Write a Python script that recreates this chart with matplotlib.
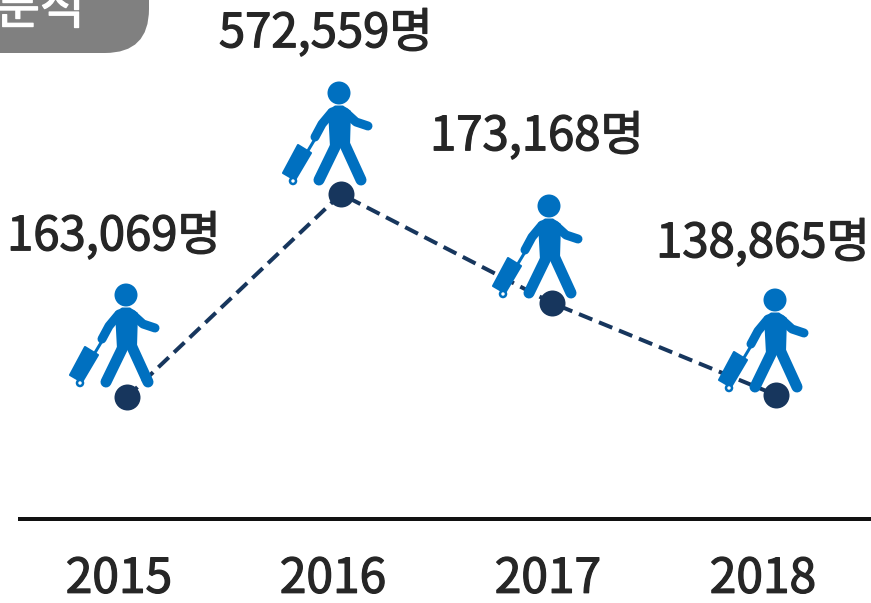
import matplotlib
matplotlib.use("Agg")
import matplotlib.pyplot as plt
import matplotlib.patheffects as pe
from matplotlib.patches import Circle, Polygon, FancyBboxPatch

plt.rcParams['font.family'] = ['Noto Sans CJK KR', 'DejaVu Sans']

years = ['2015', '2016', '2017', '2018']
visitors = [163069, 572559, 173168, 138865]
levels = [122, 325, 216, 124]   # plotted height (not proportional in the source)
unit = '명'
badge_text = '분석'

# layout
dot_x = [127, 341, 552, 776]
head_dx = [-1, -2, -3, -1]
head_dy = [102, 101, 97, 95]
label_x = [114, 326, 537, 763]
label_y = [237, 34, 137, 244]
year_x = [119, 333, 548, 763]

BLUE = '#0070c0'
NAVY = '#17365d'
TEXT = '#262626'
PX = 0.72

fig = plt.figure(figsize=(8.71, 6.03), dpi=100)
ax = fig.add_axes([0, 0, 1, 1])
ax.set_xlim(0, 871)
ax.set_ylim(-84, 519)
ax.axis('off')
Y = lambda py: 519 - py


def person(hx, hy):
    """Walking figure; local offsets are in pixels from the head centre (y down)."""
    def L(pts, w, z=3):
        ax.plot([hx + p[0] for p in pts], [hy - p[1] for p in pts], color=BLUE, lw=w * PX,
                solid_capstyle='round', solid_joinstyle='round', zorder=z)
    ax.add_patch(Circle((hx, hy), 11.5, color=BLUE, lw=0, zorder=3))
    torso = [(-11, 17), (-4, 12.5), (4, 12.5), (12, 18), (11, 52), (-9, 54)]
    ax.add_patch(Polygon([(hx + a, hy - b) for a, b in torso], closed=True, color=BLUE, lw=0, zorder=3))
    L([(-7, 19), (-17, 31), (-24, 44)], 9)
    L([(6, 19), (17, 29), (29, 33)], 9)
    L([(-3, 52), (-20, 87)], 11)
    L([(6, 52), (22, 87)], 11)
    L([(-24, 46), (-33, 61)], 3)
    case = [(-41, 52), (-28, 60), (-44, 87), (-56, 80)]
    ax.add_patch(Polygon([(hx + a, hy - b) for a, b in case], closed=True, facecolor=BLUE,
                         edgecolor=BLUE, lw=1.5, joinstyle='round', zorder=3))
    ax.add_patch(Circle((hx - 46, hy - 88), 3.0, facecolor='white', edgecolor=BLUE, lw=1.8, zorder=3))


stroke = [pe.withStroke(linewidth=0.9, foreground=TEXT)]

# gray badge
ax.add_patch(FancyBboxPatch((-60, Y(53)), 209, 120,
                            boxstyle='round,pad=0,rounding_size=44', facecolor='#808080',
                            edgecolor='none', zorder=1))
ax.text(40, Y(10), badge_text, color='white', fontsize=35, fontweight='medium', ha='center', va='center', zorder=2,
        path_effects=[pe.withStroke(linewidth=0.9, foreground='white')])

# connecting line
ax.plot(dot_x, levels, color=NAVY, lw=4 * PX, dashes=(3.6, 1.8), zorder=2)
for x, lv, dx, dy in zip(dot_x, levels, head_dx, head_dy):
    person(x + dx, lv + dy)
ax.scatter(dot_x, levels, s=(26 * PX) ** 2, color=NAVY, linewidths=0, zorder=4)

# value labels
for x, py, v in zip(label_x, label_y, visitors):
    ax.text(x, Y(py), f'{v:,}{unit}', color=TEXT, fontsize=34, fontweight='medium',
            ha='center', va='center', zorder=5, path_effects=stroke)

# baseline and years
ax.plot([18, 871], [0, 0], color='#111111', lw=4 * PX, solid_capstyle='butt', zorder=2)
for x, y in zip(year_x, years):
    ax.text(x, Y(579), y, color=TEXT, fontsize=34.5, fontweight='medium', ha='center', va='center',
            path_effects=stroke)

fig.savefig('out.png', dpi=100)
